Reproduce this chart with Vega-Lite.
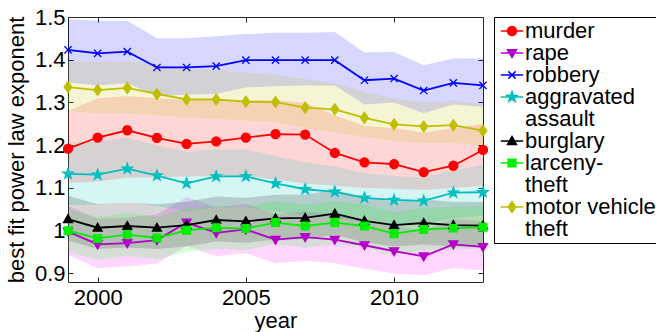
{
 "$schema": "https://vega.github.io/schema/vega-lite/v6.json",
 "width": 415, "height": 265,
 "autosize": {"type": "none"},
 "padding": {"left": 68, "top": 17, "right": 173, "bottom": 50},
 "config": {
  "font": "Liberation Sans",
  "view": {"stroke": "#262626", "strokeWidth": 1},
  "axis": {"grid": false, "domain": false, "labelFontSize": 22, "titleFontSize": 22, "labelColor": "#000", "titleColor": "#000", "titleFontWeight": "normal", "tickColor": "#262626", "tickSize": -5, "tickWidth": 1},
  "style": {"guide-label": {"lineHeight": 22}}
 },
 "data": {"values": [
  {"crime":"murder","year":1999,"value":1.192,"lo":1.112,"hi":1.28},
  {"crime":"murder","year":2000,"value":1.218,"lo":1.115,"hi":1.31},
  {"crime":"murder","year":2001,"value":1.235,"lo":1.124,"hi":1.315},
  {"crime":"murder","year":2002,"value":1.217,"lo":1.125,"hi":1.31},
  {"crime":"murder","year":2003,"value":1.203,"lo":1.127,"hi":1.305},
  {"crime":"murder","year":2004,"value":1.209,"lo":1.128,"hi":1.305},
  {"crime":"murder","year":2005,"value":1.218,"lo":1.128,"hi":1.305},
  {"crime":"murder","year":2006,"value":1.226,"lo":1.12,"hi":1.305},
  {"crime":"murder","year":2007,"value":1.225,"lo":1.11,"hi":1.3},
  {"crime":"murder","year":2008,"value":1.182,"lo":1.105,"hi":1.27},
  {"crime":"murder","year":2009,"value":1.16,"lo":1.1,"hi":1.245},
  {"crime":"murder","year":2010,"value":1.156,"lo":1.098,"hi":1.24},
  {"crime":"murder","year":2011,"value":1.137,"lo":1.095,"hi":1.23},
  {"crime":"murder","year":2012,"value":1.152,"lo":1.1,"hi":1.24},
  {"crime":"murder","year":2013,"value":1.189,"lo":1.105,"hi":1.25},
  {"crime":"rape","year":1999,"value":0.998,"lo":0.943,"hi":1.058},
  {"crime":"rape","year":2000,"value":0.968,"lo":0.913,"hi":1.028},
  {"crime":"rape","year":2001,"value":0.971,"lo":0.916,"hi":1.031},
  {"crime":"rape","year":2002,"value":0.978,"lo":0.923,"hi":1.038},
  {"crime":"rape","year":2003,"value":1.019,"lo":0.964,"hi":1.079},
  {"crime":"rape","year":2004,"value":0.995,"lo":0.94,"hi":1.055},
  {"crime":"rape","year":2005,"value":1.003,"lo":0.948,"hi":1.063},
  {"crime":"rape","year":2006,"value":0.979,"lo":0.924,"hi":1.039},
  {"crime":"rape","year":2007,"value":0.985,"lo":0.93,"hi":1.045},
  {"crime":"rape","year":2008,"value":0.979,"lo":0.924,"hi":1.039},
  {"crime":"rape","year":2009,"value":0.966,"lo":0.911,"hi":1.026},
  {"crime":"rape","year":2010,"value":0.952,"lo":0.9,"hi":1.012},
  {"crime":"rape","year":2011,"value":0.94,"lo":0.895,"hi":1.0},
  {"crime":"rape","year":2012,"value":0.968,"lo":0.913,"hi":1.028},
  {"crime":"rape","year":2013,"value":0.962,"lo":0.907,"hi":1.022},
  {"crime":"robbery","year":1999,"value":1.423,"lo":1.347,"hi":1.495},
  {"crime":"robbery","year":2000,"value":1.415,"lo":1.34,"hi":1.491},
  {"crime":"robbery","year":2001,"value":1.419,"lo":1.345,"hi":1.491},
  {"crime":"robbery","year":2002,"value":1.382,"lo":1.315,"hi":1.45},
  {"crime":"robbery","year":2003,"value":1.382,"lo":1.318,"hi":1.45},
  {"crime":"robbery","year":2004,"value":1.385,"lo":1.32,"hi":1.455},
  {"crime":"robbery","year":2005,"value":1.399,"lo":1.335,"hi":1.46},
  {"crime":"robbery","year":2006,"value":1.399,"lo":1.338,"hi":1.463},
  {"crime":"robbery","year":2007,"value":1.399,"lo":1.34,"hi":1.463},
  {"crime":"robbery","year":2008,"value":1.399,"lo":1.34,"hi":1.465},
  {"crime":"robbery","year":2009,"value":1.352,"lo":1.295,"hi":1.417},
  {"crime":"robbery","year":2010,"value":1.356,"lo":1.3,"hi":1.418},
  {"crime":"robbery","year":2011,"value":1.328,"lo":1.275,"hi":1.387},
  {"crime":"robbery","year":2012,"value":1.346,"lo":1.295,"hi":1.403},
  {"crime":"robbery","year":2013,"value":1.34,"lo":1.29,"hi":1.403},
  {"crime":"aggravated assault","year":1999,"value":1.133,"lo":1.06,"hi":1.206},
  {"crime":"aggravated assault","year":2000,"value":1.131,"lo":1.06,"hi":1.209},
  {"crime":"aggravated assault","year":2001,"value":1.145,"lo":1.067,"hi":1.218},
  {"crime":"aggravated assault","year":2002,"value":1.129,"lo":1.058,"hi":1.2},
  {"crime":"aggravated assault","year":2003,"value":1.111,"lo":1.045,"hi":1.185},
  {"crime":"aggravated assault","year":2004,"value":1.127,"lo":1.055,"hi":1.19},
  {"crime":"aggravated assault","year":2005,"value":1.127,"lo":1.055,"hi":1.19},
  {"crime":"aggravated assault","year":2006,"value":1.111,"lo":1.045,"hi":1.175},
  {"crime":"aggravated assault","year":2007,"value":1.097,"lo":1.035,"hi":1.16},
  {"crime":"aggravated assault","year":2008,"value":1.091,"lo":1.03,"hi":1.15},
  {"crime":"aggravated assault","year":2009,"value":1.077,"lo":1.02,"hi":1.135},
  {"crime":"aggravated assault","year":2010,"value":1.072,"lo":1.015,"hi":1.128},
  {"crime":"aggravated assault","year":2011,"value":1.07,"lo":1.015,"hi":1.124},
  {"crime":"aggravated assault","year":2012,"value":1.089,"lo":1.03,"hi":1.14},
  {"crime":"aggravated assault","year":2013,"value":1.09,"lo":1.035,"hi":1.155},
  {"crime":"burglary","year":1999,"value":1.027,"lo":0.977,"hi":1.082},
  {"crime":"burglary","year":2000,"value":1.007,"lo":0.957,"hi":1.062},
  {"crime":"burglary","year":2001,"value":1.011,"lo":0.961,"hi":1.066},
  {"crime":"burglary","year":2002,"value":1.007,"lo":0.957,"hi":1.062},
  {"crime":"burglary","year":2003,"value":1.013,"lo":0.963,"hi":1.068},
  {"crime":"burglary","year":2004,"value":1.025,"lo":0.975,"hi":1.08},
  {"crime":"burglary","year":2005,"value":1.022,"lo":0.972,"hi":1.077},
  {"crime":"burglary","year":2006,"value":1.029,"lo":0.979,"hi":1.084},
  {"crime":"burglary","year":2007,"value":1.03,"lo":0.98,"hi":1.085},
  {"crime":"burglary","year":2008,"value":1.04,"lo":0.99,"hi":1.095},
  {"crime":"burglary","year":2009,"value":1.023,"lo":0.973,"hi":1.078},
  {"crime":"burglary","year":2010,"value":1.013,"lo":0.963,"hi":1.068},
  {"crime":"burglary","year":2011,"value":1.018,"lo":0.968,"hi":1.073},
  {"crime":"burglary","year":2012,"value":1.013,"lo":0.963,"hi":1.068},
  {"crime":"burglary","year":2013,"value":1.012,"lo":0.962,"hi":1.067},
  {"crime":"larceny-theft","year":1999,"value":1.0,"lo":0.95,"hi":1.05},
  {"crime":"larceny-theft","year":2000,"value":0.982,"lo":0.932,"hi":1.032},
  {"crime":"larceny-theft","year":2001,"value":0.991,"lo":0.941,"hi":1.041},
  {"crime":"larceny-theft","year":2002,"value":0.983,"lo":0.933,"hi":1.033},
  {"crime":"larceny-theft","year":2003,"value":1.001,"lo":0.951,"hi":1.051},
  {"crime":"larceny-theft","year":2004,"value":1.007,"lo":0.957,"hi":1.057},
  {"crime":"larceny-theft","year":2005,"value":1.005,"lo":0.955,"hi":1.055},
  {"crime":"larceny-theft","year":2006,"value":1.019,"lo":0.969,"hi":1.069},
  {"crime":"larceny-theft","year":2007,"value":1.011,"lo":0.961,"hi":1.061},
  {"crime":"larceny-theft","year":2008,"value":1.019,"lo":0.969,"hi":1.069},
  {"crime":"larceny-theft","year":2009,"value":1.011,"lo":0.961,"hi":1.061},
  {"crime":"larceny-theft","year":2010,"value":0.993,"lo":0.943,"hi":1.043},
  {"crime":"larceny-theft","year":2011,"value":1.003,"lo":0.953,"hi":1.053},
  {"crime":"larceny-theft","year":2012,"value":1.006,"lo":0.956,"hi":1.056},
  {"crime":"larceny-theft","year":2013,"value":1.008,"lo":0.958,"hi":1.058},
  {"crime":"motor vehicle theft","year":1999,"value":1.336,"lo":1.28,"hi":1.397},
  {"crime":"motor vehicle theft","year":2000,"value":1.329,"lo":1.275,"hi":1.395},
  {"crime":"motor vehicle theft","year":2001,"value":1.334,"lo":1.275,"hi":1.397},
  {"crime":"motor vehicle theft","year":2002,"value":1.32,"lo":1.27,"hi":1.39},
  {"crime":"motor vehicle theft","year":2003,"value":1.307,"lo":1.265,"hi":1.38},
  {"crime":"motor vehicle theft","year":2004,"value":1.307,"lo":1.262,"hi":1.375},
  {"crime":"motor vehicle theft","year":2005,"value":1.302,"lo":1.258,"hi":1.37},
  {"crime":"motor vehicle theft","year":2006,"value":1.301,"lo":1.255,"hi":1.365},
  {"crime":"motor vehicle theft","year":2007,"value":1.288,"lo":1.24,"hi":1.355},
  {"crime":"motor vehicle theft","year":2008,"value":1.284,"lo":1.23,"hi":1.345},
  {"crime":"motor vehicle theft","year":2009,"value":1.264,"lo":1.22,"hi":1.325},
  {"crime":"motor vehicle theft","year":2010,"value":1.249,"lo":1.21,"hi":1.31},
  {"crime":"motor vehicle theft","year":2011,"value":1.244,"lo":1.205,"hi":1.3},
  {"crime":"motor vehicle theft","year":2012,"value":1.247,"lo":1.205,"hi":1.305},
  {"crime":"motor vehicle theft","year":2013,"value":1.234,"lo":1.2,"hi":1.295}
 ]},
 "layer": [
  {
   "mark": {"type": "area", "opacity": 0.16},
   "encoding": {
    "x": {"field": "year", "type": "quantitative", "scale": {"domain": [1999, 2013], "nice": false, "zero": false},
          "axis": {"values": [2000, 2005, 2010], "format": "d", "title": "year", "labelPadding": 10, "titlePadding": 2}},
    "y": {"field": "lo", "type": "quantitative", "scale": {"domain": [0.88, 1.5], "nice": false, "zero": false},
          "axis": {"values": [0.9, 1, 1.1, 1.2, 1.3, 1.4, 1.5], "format": ".1~f", "title": "best fit power law exponent", "labelPadding": 8, "titlePadding": 6}},
    "y2": {"field": "hi"},
    "color": {"field": "crime", "type": "nominal",
              "scale": {"domain": ["murder","rape","robbery","aggravated assault","burglary","larceny-theft","motor vehicle theft"],
                        "range": ["#ff0000","#ff00ff","#0000ff","#00bfbf","#000000","#00ff00","#bfbf00"]},
              "legend": null}
   }
  },
  {
   "mark": {"type": "line", "strokeWidth": 1.8},
   "encoding": {
    "x": {"field": "year", "type": "quantitative", "scale": {"domain": [1999, 2013], "nice": false, "zero": false},
          "axis": {"orient": "top", "values": [2000, 2005, 2010], "labels": false, "title": null}},
    "y": {"field": "value", "type": "quantitative", "scale": {"domain": [0.88, 1.5], "nice": false, "zero": false},
          "axis": {"orient": "right", "values": [0.9, 1, 1.1, 1.2, 1.3, 1.4, 1.5], "labels": false, "title": null}},
    "stroke": {"field": "crime", "type": "nominal",
              "scale": {"domain": ["murder","rape","robbery","aggravated assault","burglary","larceny-theft","motor vehicle theft"],
                        "range": ["#ff0000","#b400c8","#0000ff","#00bfbf","#000000","#00ee00","#bfbf00"]},
              "legend": null}
   }
  },
  {
   "mark": {"type": "point", "filled": true, "size": 81, "strokeWidth": 1.3, "opacity": 1},
   "encoding": {
    "x": {"field": "year", "type": "quantitative", "axis": null},
    "y": {"field": "value", "type": "quantitative", "axis": null},
    "fill": {"field": "crime", "type": "nominal",
              "scale": {"domain": ["murder","rape","robbery","aggravated assault","burglary","larceny-theft","motor vehicle theft"],
                        "range": ["#ff0000","#b400c8","#0000ff","#00bfbf","#000000","#00ee00","#bfbf00"]},
              "legend": null},
    "stroke": {"field": "crime", "type": "nominal",
              "scale": {"domain": ["murder","rape","robbery","aggravated assault","burglary","larceny-theft","motor vehicle theft"],
                        "range": ["#ff0000","#b400c8","#0000ff","#00bfbf","#000000","#00ee00","#bfbf00"]},
              "legend": null},
    "shape": {"field": "crime", "type": "nominal",
              "scale": {"domain": ["murder","rape","robbery","aggravated assault","burglary","larceny-theft","motor vehicle theft"],
                        "range": [
                         "M-1,0A1,1,0,1,0,1,0A1,1,0,1,0,-1,0Z",
                         "M-1,-0.75L1,-0.75L0,1Z",
                         "M-0.8,-0.8L0.8,0.8M-0.8,0.8L0.8,-0.8",
                         "M0,-1.2L0.282,-0.389L1.141,-0.371L0.456,0.149L0.706,0.971L0,0.48L-0.706,0.971L-0.456,0.149L-1.141,-0.371L-0.282,-0.389Z",
                         "M-1,0.75L1,0.75L0,-1Z",
                         "M-0.85,-0.85H0.85V0.85H-0.85Z",
                         "M0,-1.2L0.85,0L0,1.2L-0.85,0Z"]},
              "legend": null}
   }
  },
  {
   "transform": [{"filter": "datum.year < 0"}],
   "mark": {"type": "point", "filled": true, "size": 81, "strokeWidth": 1.5, "opacity": 1},
   "encoding": {
    "x": {"field": "year", "type": "quantitative", "axis": null},
    "y": {"field": "value", "type": "quantitative", "axis": null},
    "fill": {"field": "crime", "type": "nominal",
              "scale": {"domain": ["murder","rape","robbery","aggravated assault","burglary","larceny-theft","motor vehicle theft"],
                        "range": ["#ff0000","#b400c8","#0000ff","#00bfbf","#000000","#00ee00","#bfbf00"]},
              "legend": {"title": null, "orient": "right", "offset": 7, "padding": 3, "symbolOffset": 4, "labelOffset": 2,
                         "labelFontSize": 22, "labelColor": "#000", "labelLimit": 400, "rowPadding": 0, "symbolSize": 81,
                         "symbolStrokeWidth": 1.5, "symbolOpacity": 1, "strokeColor": "#000", "fillColor": "#fff",
                         "labelExpr": "datum.label == 'aggravated assault' ? ['aggravated','assault'] : datum.label == 'larceny-theft' ? ['larceny-','theft'] : datum.label == 'motor vehicle theft' ? ['motor vehicle','theft'] : datum.label"}},
    "stroke": {"field": "crime", "type": "nominal",
              "scale": {"domain": ["murder","rape","robbery","aggravated assault","burglary","larceny-theft","motor vehicle theft"],
                        "range": ["#ff0000","#b400c8","#0000ff","#00bfbf","#000000","#00ee00","#bfbf00"]}},
    "shape": {"field": "crime", "type": "nominal",
              "scale": {"domain": ["murder","rape","robbery","aggravated assault","burglary","larceny-theft","motor vehicle theft"],
                        "range": [
                         "M-2.5,0H2.5M-1,0A1,1,0,1,0,1,0A1,1,0,1,0,-1,0Z",
                         "M-2.5,0H2.5M-1,-0.75L1,-0.75L0,1Z",
                         "M-2.5,0H2.5M-0.8,-0.8L0.8,0.8M-0.8,0.8L0.8,-0.8",
                         "M-2.5,0H2.5M0,-1.2L0.282,-0.389L1.141,-0.371L0.456,0.149L0.706,0.971L0,0.48L-0.706,0.971L-0.456,0.149L-1.141,-0.371L-0.282,-0.389Z",
                         "M-2.5,0H2.5M-1,0.75L1,0.75L0,-1Z",
                         "M-2.5,0H2.5M-0.85,-0.85H0.85V0.85H-0.85Z",
                         "M-2.5,0H2.5M0,-1.2L0.85,0L0,1.2L-0.85,0Z"]}}
   }
  }
 ],
 "resolve": {"scale": {"fill": "independent", "stroke": "independent", "shape": "independent"}, "axis": {"x": "independent", "y": "independent"}}
}
